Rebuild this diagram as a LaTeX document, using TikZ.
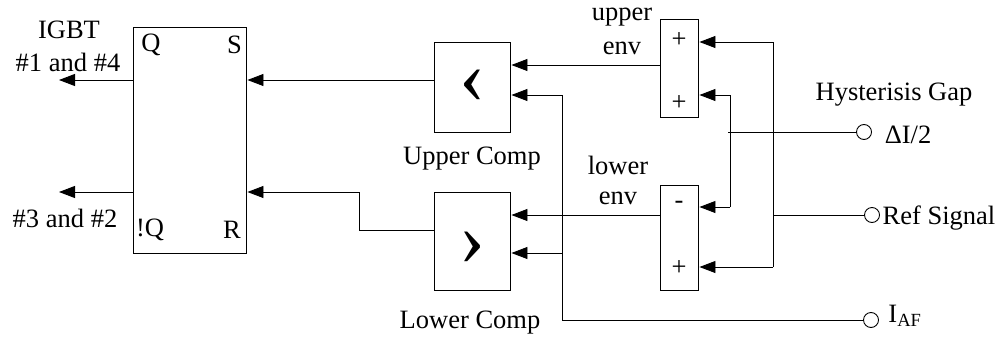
\documentclass[tikz,border=0pt]{standalone}
\usepackage{fontspec}
\setmainfont{Liberation Serif}
\usepackage{tikz}
\usetikzlibrary{arrows.meta}
\tikzset{
  blockbox/.style={draw, minimum width=#1, inner sep=0pt, line width=0.9pt},
  terminal/.style={draw, circle, minimum size=15pt, inner sep=0pt, line width=0.9pt},
  sig/.style={line width=0.9pt},
  sigarrow/.style={line width=0.9pt, -{Triangle[length=16pt, width=12pt]}, shorten >=1pt},
  label/.style={font=\fontsize{26.5}{30}\selectfont, inner sep=0pt},
  chevron/.style={font=\fontsize{78}{78}\selectfont, inner sep=0pt}
}

\begin{document}
\begin{tikzpicture}[x=1pt, y=-1pt]
  \useasboundingbox (0, 0) rectangle (998, 340);

  % blocks
  \node[blockbox=113pt, minimum height=226pt] (flipflop) at (189.5, 140) {};
  \node[blockbox=76pt, minimum height=90pt] (uppercomp) at (472, 87) {};
  \node[blockbox=76pt, minimum height=98pt] (lowercomp) at (472, 241) {};
  \node[blockbox=38pt, minimum height=98pt] (upperenv) at (679, 68.5) {};
  \node[blockbox=38pt, minimum height=105pt] (lowerenv) at (679, 237.5) {};

  % inputs
  \node[terminal] (gap) at (864, 132) {};
  \node[terminal] (ref) at (872, 215) {};
  \node[terminal] (iaf) at (871, 320) {};

  % levels and free ends
  \coordinate (qout) at (58, 80);
  \coordinate (nqout) at (58, 192);
  \coordinate (upperout) at (0, 65);
  \coordinate (lowerout) at (0, 215);
  \coordinate (iaftop) at (562, 95);
  \coordinate (iafmid) at (562, 253);
  \coordinate (gaptop) at (730, 95);
  \coordinate (gapbot) at (730, 207);
  \coordinate (gapend) at (728, 132);
  \coordinate (reftop) at (773, 42);
  \coordinate (refbot) at (773, 267);
  \coordinate (rbend) at (359, 192);
  \coordinate (rlow) at (359, 230);

  % flip flop
  \draw[sigarrow] (flipflop.west |- qout) -- (qout);
  \draw[sigarrow] (flipflop.west |- nqout) -- (nqout);
  \draw[sigarrow] (uppercomp.west |- qout) -- (flipflop.east |- qout);
  \draw[sigarrow] (lowercomp.west |- rlow) -- (rlow) -- (rbend) -- (flipflop.east |- rbend);

  % comparators
  \draw[sigarrow] (upperenv.west |- upperout) -- (uppercomp.east |- upperout);
  \draw[sigarrow] (lowerenv.west |- lowerout) -- (lowercomp.east |- lowerout);
  \draw[sigarrow] (iaf.west) -| (iaftop) -- (uppercomp.east |- iaftop);
  \draw[sigarrow] (iafmid) -- (lowercomp.east |- iafmid);

  % envelopes
  \draw[sig] (gap.west) -- (gapend);
  \draw[sigarrow] (gapbot) -- (lowerenv.east |- gapbot);
  \draw[sig] (gaptop) -- (gapbot);
  \draw[sigarrow] (gaptop) -- (upperenv.east |- gaptop);
  \draw[sig] (ref.west) -- (reftop |- ref);
  \draw[sig] (reftop) -- (refbot);
  \draw[sigarrow] (reftop) -- (upperenv.east |- reftop);
  \draw[sigarrow] (refbot) -- (lowerenv.east |- refbot);

  % texts
  \node[label] (igbt) at (69, 30) {IGBT};
  \node[label] (onefour) at (68, 62) {\#1 and \#4};
  \node[label] (threetwo) at (65, 218) {\#3 and \#2};
  \node[label] (qtext) at (151, 45) {Q};
  \node[label] (stext) at (234.5, 45) {S};
  \node[label] (nqtext) at (150, 230) {!Q};
  \node[label] (rtext) at (232, 230) {R};
  \node[label] (uppertext) at (472, 159) {Upper Comp};
  \node[label] (lowertext) at (470, 323) {Lower Comp};
  \node[chevron] (ucompsign) at (472, 86) {‹};
  \node[chevron] (lcompsign) at (472, 248) {›};
  \node[label] (uppername) at (622, 17) {upper};
  \node[label] (upperenvname) at (622, 48) {env};
  \node[label] (lowername) at (618, 165) {lower};
  \node[label] (lowerenvname) at (618, 198) {env};
  \node[label] (plusa) at (679, 40) {+};
  \node[label] (plusb) at (679, 103) {+};
  \node[label] (minus) at (679, 205) {-};
  \node[label] (plusc) at (679, 268) {+};
  \node[label] (gaptext) at (894, 95) {Hysterisis Gap};
  \node[label] (gapname) at (908, 135) {ΔI/2};
  \node[label] (refname) at (939, 218) {Ref Signal};
  \node[label] (iafname) at (905, 316) {I\textsubscript{AF}};
\end{tikzpicture}
\end{document}
